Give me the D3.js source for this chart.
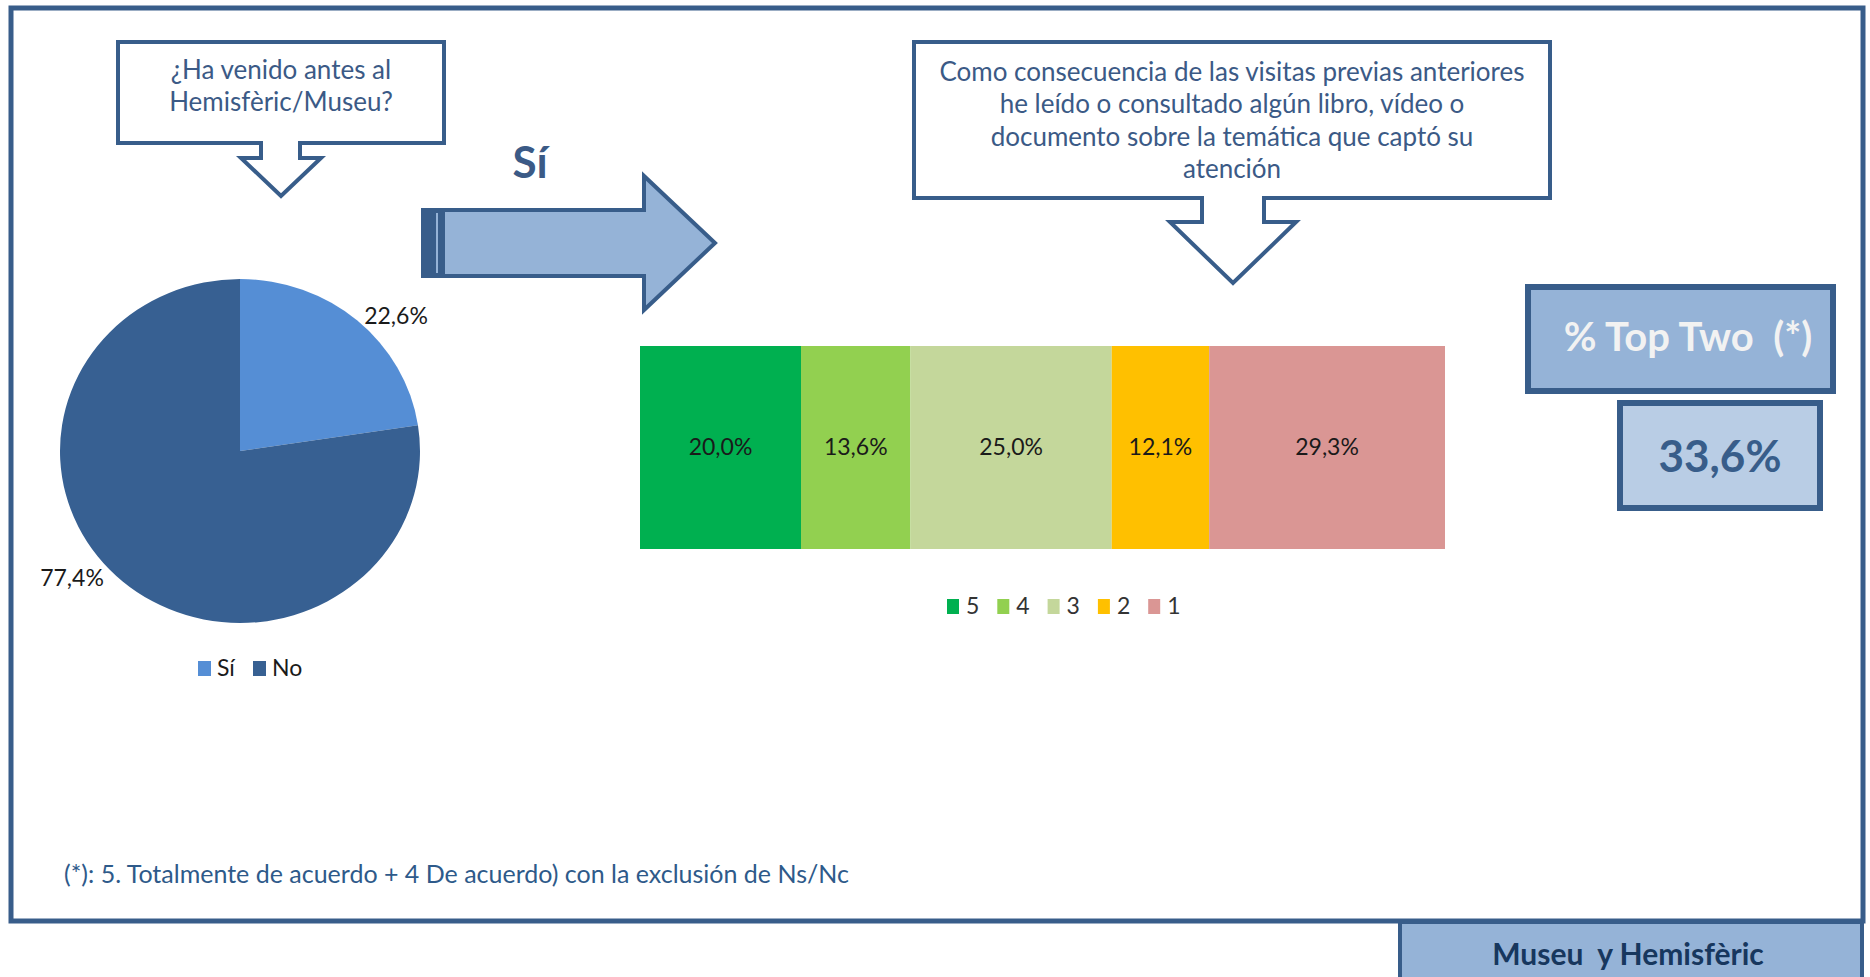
<!DOCTYPE html>
<html>
<head>
<meta charset="utf-8">
<script src="https://cdn.jsdelivr.net/npm/d3@7"></script>
<style>
  body { margin: 0; background: #fff; }
  svg text { font-family: Lato, "Open Sans", sans-serif; }
</style>
</head>
<body>
<div id="main"></div>
<script>
// data
var pieLabels = ["Sí", "No"];
var pieValues = [22.6, 77.4];
var pieColors = ["#558ed5", "#376092"];

var barLabels = ["5", "4", "3", "2", "1"];
var barValues = [20.0, 13.6, 25.0, 12.1, 29.3];
var barColors = ["#00b050", "#92d050", "#c4d79b", "#ffc000", "#da9694"];

var question1 = ["¿Ha venido antes al", "Hemisfèric/Museu?"];
var question2 = ["Como consecuencia de las visitas previas anteriores",
                 "he leído o consultado algún libro, vídeo o",
                 "documento sobre la temática que captó su",
                 "atención"];
var footnote = "(*): 5. Totalmente de acuerdo + 4 De acuerdo) con la exclusión de Ns/Nc";

var W = 1870, H = 977;
var dark = "#385d8a", light = "#95b3d7", textBlue = "#3b5a86";
var fmt = function(v) { return d3.format(".1f")(v).replace(".", ",") + "%"; };

var svg = d3.select("#main").append("svg")
    .attr("width", W)
    .attr("height", H);

// outer frame
svg.append("rect")
    .attr("x", 11).attr("y", 8)
    .attr("width", 1852).attr("height", 913)
    .attr("fill", "none")
    .attr("stroke", dark)
    .attr("stroke-width", 5);

// bottom tab
svg.append("rect")
    .attr("x", 1400).attr("y", 922)
    .attr("width", 462).attr("height", 60)
    .attr("fill", light)
    .attr("stroke", dark)
    .attr("stroke-width", 4);
svg.append("text")
    .attr("x", 1628).attr("y", 965)
    .attr("text-anchor", "middle")
    .style("font-size", "30px")
    .style("font-weight", "bold")
    .attr("fill", "#17375e")
    .attr("xml:space", "preserve")
    .text("Museu  y Hemisfèric");

// callout with down arrow
function callout(x0, x1, y0, y1, s0, s1, w0, w1, yw, tipY) {
  var mid = (w0 + w1) / 2;
  var pts = [[x0, y0], [x1, y0], [x1, y1], [s1, y1], [s1, yw], [w1, yw],
             [mid, tipY], [w0, yw], [s0, yw], [s0, y1], [x0, y1]];
  svg.append("path")
      .attr("d", d3.line()(pts) + "Z")
      .attr("fill", "#fff")
      .attr("stroke", dark)
      .attr("stroke-width", 4)
      .attr("stroke-linejoin", "miter");
}

callout(118, 444, 42, 143, 261, 300, 241, 321, 158, 196);
svg.append("g").selectAll("text")
    .data(question1).enter().append("text")
    .attr("x", 281)
    .attr("y", function(d, i) { return 79 + i * 32; })
    .attr("text-anchor", "middle")
    .style("font-size", "26px")
    .attr("fill", textBlue)
    .text(function(d) { return d; });

callout(914, 1550, 42, 198, 1202, 1264, 1170, 1296, 222, 283);
svg.append("g").selectAll("text")
    .data(question2).enter().append("text")
    .attr("x", 1232)
    .attr("y", function(d, i) { return 81 + i * 32.3; })
    .attr("text-anchor", "middle")
    .style("font-size", "26px")
    .attr("fill", textBlue)
    .text(function(d) { return d; });

// "Sí" + big arrow
svg.append("text")
    .attr("x", 530).attr("y", 178)
    .attr("text-anchor", "middle")
    .style("font-size", "44px")
    .style("font-weight", "bold")
    .attr("fill", textBlue)
    .text("Sí");

var arrowPts = [[423, 210], [644, 210], [644, 176], [715, 243], [644, 310], [644, 276], [423, 276]];
svg.append("path")
    .attr("d", d3.line()(arrowPts) + "Z")
    .attr("fill", light)
    .attr("stroke", dark)
    .attr("stroke-width", 4);
svg.append("rect")
    .attr("x", 423).attr("y", 210)
    .attr("width", 22).attr("height", 66)
    .attr("fill", dark);
svg.append("line")
    .attr("x1", 437).attr("x2", 437)
    .attr("y1", 213).attr("y2", 273)
    .attr("stroke", light)
    .attr("stroke-width", 2);

// pie
var cx = 240, cy = 451, rx = 180, ry = 172;
var pie = d3.pie().sort(null)(pieValues);
var arc = d3.arc().innerRadius(0).outerRadius(rx);
var pieG = svg.append("g")
    .attr("transform", "translate(" + cx + "," + cy + ") scale(1," + (ry / rx) + ")");
pieG.selectAll("path")
    .data(pie).enter().append("path")
    .attr("d", arc)
    .attr("fill", function(d, i) { return pieColors[i]; });

// pie labels (outside)
var pieLabelPos = [[396, 324], [72, 586]];
svg.append("g").selectAll("text")
    .data(pie).enter().append("text")
    .attr("x", function(d, i) { return pieLabelPos[i][0]; })
    .attr("y", function(d, i) { return pieLabelPos[i][1]; })
    .attr("text-anchor", "middle")
    .style("font-size", "23px")
    .attr("fill", "#1a1a1a")
    .text(function(d) { return fmt(d.value); });

// pie legend
var pieLeg = svg.append("g").selectAll("g")
    .data(pieLabels).enter().append("g")
    .attr("transform", function(d, i) { return "translate(" + (198 + i * 55) + ",661)"; });
pieLeg.append("rect")
    .attr("width", 13).attr("height", 15)
    .attr("fill", function(d, i) { return pieColors[i]; });
pieLeg.append("text")
    .attr("x", 19).attr("y", 15)
    .style("font-size", "23px")
    .attr("fill", "#1a1a1a")
    .text(function(d) { return d; });

// stacked bar
var xScale = d3.scaleLinear()
    .domain([0, d3.sum(barValues)])
    .range([640, 1445]);
var cum = 0;
var stack = barValues.map(function(v, i) {
  var s = { label: barLabels[i], value: v, x0: cum, x1: cum + v, color: barColors[i] };
  cum += v;
  return s;
});
var barG = svg.append("g");
barG.selectAll("rect")
    .data(stack).enter().append("rect")
    .attr("x", function(d) { return xScale(d.x0); })
    .attr("width", function(d) { return xScale(d.x1) - xScale(d.x0); })
    .attr("y", 346)
    .attr("height", 203)
    .attr("fill", function(d) { return d.color; });
barG.selectAll("text")
    .data(stack).enter().append("text")
    .attr("x", function(d) { return (xScale(d.x0) + xScale(d.x1)) / 2; })
    .attr("y", 455)
    .attr("text-anchor", "middle")
    .style("font-size", "23px")
    .attr("fill", "#1a1a1a")
    .text(function(d) { return fmt(d.value); });

// bar legend
var barLeg = svg.append("g").selectAll("g")
    .data(stack).enter().append("g")
    .attr("transform", function(d, i) { return "translate(" + (947 + i * 50.3) + ",599)"; });
barLeg.append("rect")
    .attr("width", 12).attr("height", 15)
    .attr("fill", function(d) { return d.color; });
barLeg.append("text")
    .attr("x", 19).attr("y", 15)
    .style("font-size", "23px")
    .attr("fill", "#333")
    .text(function(d) { return d.label; });

// top two boxes
var topTwo = barValues[0] + barValues[1];
svg.append("rect")
    .attr("x", 1528).attr("y", 287)
    .attr("width", 305).attr("height", 104)
    .attr("fill", light)
    .attr("stroke", dark)
    .attr("stroke-width", 6);
svg.append("text")
    .attr("x", 1688).attr("y", 351)
    .attr("text-anchor", "middle")
    .style("font-size", "40px")
    .style("font-weight", "bold")
    .attr("fill", "#f2f2f2")
    .attr("xml:space", "preserve")
    .text("% Top Two  (*)");
svg.append("rect")
    .attr("x", 1620).attr("y", 403)
    .attr("width", 200).attr("height", 105)
    .attr("fill", "#b9cde5")
    .attr("stroke", dark)
    .attr("stroke-width", 6);
svg.append("text")
    .attr("x", 1720).attr("y", 472)
    .attr("text-anchor", "middle")
    .style("font-size", "44px")
    .style("font-weight", "bold")
    .attr("fill", dark)
    .text(fmt(topTwo));

// footnote
svg.append("text")
    .attr("x", 64).attr("y", 883)
    .style("font-size", "25px")
    .attr("fill", "#2e5a8a")
    .text(footnote);
</script>
</body>
</html>
